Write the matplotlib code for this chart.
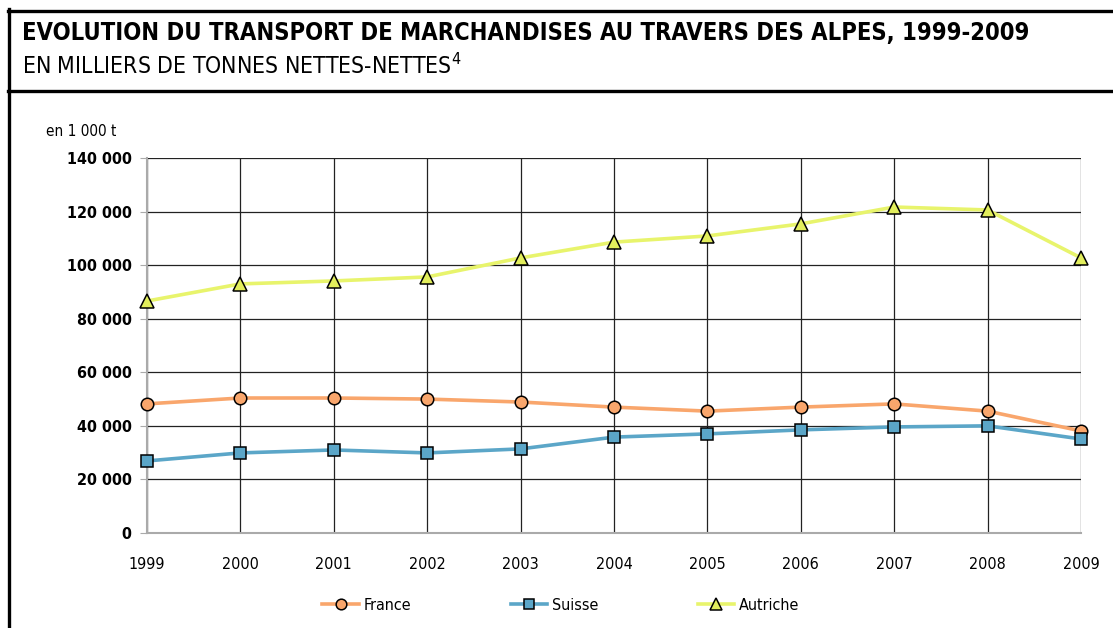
import matplotlib
matplotlib.use("Agg")
import matplotlib.pyplot as plt
from matplotlib.lines import Line2D
from matplotlib.ticker import FuncFormatter

plt.rcParams['font.family'] = ['DejaVu Sans']
plt.rcParams['font.stretch'] = 'condensed'

# data (en 1 000 t)
years = [1999, 2000, 2001, 2002, 2003, 2004, 2005, 2006, 2007, 2008, 2009]
france = [48200, 50400, 50400, 50000, 48900, 47000, 45500, 47000, 48200, 45500, 38100]
suisse = [26900, 29900, 31000, 29900, 31400, 35800, 37000, 38500, 39600, 40000, 35100]
autriche = [86600, 93000, 94100, 95600, 102700, 108600, 110900, 115400, 121700, 120600, 102700]

title = "EVOLUTION DU TRANSPORT DE MARCHANDISES AU TRAVERS DES ALPES, 1999-2009"
subtitle = "EN MILLIERS DE TONNES NETTES-NETTES$^{4}$"

fig = plt.figure(figsize=(11.13, 6.28), dpi=100)

# header frame
W, H = 1113, 628
def hline(y, x0, x1):
    fig.add_artist(Line2D([x0 / W, x1 / W], [1 - y / H, 1 - y / H], color='black', lw=2.4))
hline(10.5, 7.5, 1113)
hline(90.5, 7.5, 1113)
fig.add_artist(Line2D([8.5 / W, 8.5 / W], [1 - 9 / H, 0], color='black', lw=2.4))

fig.text(22 / W, 1 - 33 / H, title, fontsize=17, fontweight='bold', va='center')
fig.text(22 / W, 1 - 66 / H, subtitle, fontsize=16.5, va='center')
fig.text(46 / W, 1 - 131 / H, "en 1 000 t", fontsize=11, va='center')

ax = fig.add_axes([147 / W, 1 - 533 / H, (1081 - 147) / W, (533 - 158) / H])

ax.plot(years, france, color='#F9A66C', lw=2.6, marker='o', markersize=9,
        markerfacecolor='#F9A66C', markeredgecolor='black', markeredgewidth=1.1,
        label='France', zorder=3, clip_on=False)
ax.plot(years, suisse, color='#5BA6C8', lw=2.6, marker='s', markersize=8,
        markerfacecolor='#5BA6C8', markeredgecolor='black', markeredgewidth=1.1,
        label='Suisse', zorder=3, clip_on=False)
ax.plot(years, autriche, color='#E8F46C', lw=2.6, marker='^', markersize=9.5,
        markerfacecolor='#E2EE5C', markeredgecolor='black', markeredgewidth=1.1,
        label='Autriche', zorder=3, clip_on=False)

ax.set_xlim(1999, 2009)
ax.set_ylim(0, 140000)
ax.set_xticks(years)
ax.set_yticks(range(0, 140001, 20000))
ax.yaxis.set_major_formatter(FuncFormatter(lambda v, p: f"{int(v):,}".replace(",", " ")))
ax.grid(True, color='#222222', lw=0.9)
ax.set_axisbelow(True)

for s in ['top', 'right']:
    ax.spines[s].set_visible(False)
ax.spines['left'].set_color('#AAAAAA')
ax.spines['bottom'].set_color('#AAAAAA')
ax.spines['left'].set_linewidth(1.5)
ax.spines['bottom'].set_linewidth(1.5)
ax.spines['left'].set_zorder(2.5)
ax.spines['bottom'].set_zorder(2.5)

ax.tick_params(axis='y', length=5, color='#AAAAAA', pad=6, labelsize=11.5)
ax.tick_params(axis='x', length=0, pad=17, labelsize=11.5)
for lab in ax.get_yticklabels():
    lab.set_fontweight('bold')

fig.legend(loc='center', bbox_to_anchor=(561 / W, 1 - 605 / H), ncol=3, frameon=False,
           fontsize=11.5, handlelength=2.3, handletextpad=0.3, columnspacing=6.2,
           markerscale=0.85)

fig.savefig("out.png", dpi=100)
